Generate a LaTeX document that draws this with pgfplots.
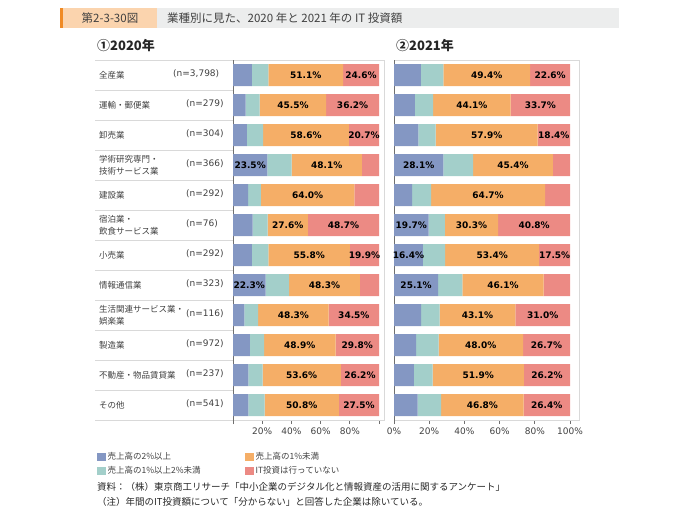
\documentclass[border=0pt]{standalone}
\usepackage{pgfplots}
\pgfplotsset{compat=1.18}
\usepackage{pgfplotstable}
\usepackage{fontspec}
\setmainfont{Noto Sans CJK JP}
\newfontfamily\num{DejaVu Sans}
\definecolor{cblue}{HTML}{8497C3}
\definecolor{cteal}{HTML}{A3CFCA}
\definecolor{corange}{HTML}{F5AE67}
\definecolor{cred}{HTML}{EC8A84}
\definecolor{txt}{HTML}{404040}
\definecolor{gridc}{HTML}{D9D9D9}
\definecolor{axc}{HTML}{707070}
\definecolor{hdrorange}{HTML}{F08A24}
\definecolor{hdrpeach}{HTML}{FBD4AE}
\definecolor{hdrgray}{HTML}{ECEDED}

% 2020
\pgfplotstableread{
row a b c d sa sb sc sd
1 12.9 11.4 51.1 24.6 0 0 1 1
2 8.7 9.6 45.5 36.2 0 0 1 1
3 9.5 11.2 58.6 20.7 0 0 1 1
4 23.5 16.6 48.1 11.8 1 0 1 0
5 10.3 8.8 64.0 16.9 0 0 1 0
6 13.4 10.3 27.6 48.7 0 0 1 1
7 12.9 11.4 55.8 19.9 0 0 1 1
8 22.3 16.2 48.3 13.2 1 0 1 0
9 7.8 9.4 48.3 34.5 0 0 1 1
10 11.5 9.8 48.9 29.8 0 0 1 1
11 10.6 9.6 53.6 26.2 0 0 1 1
12 10.6 11.1 50.8 27.5 0 0 1 1
}\tabA
% 2021
\pgfplotstableread{
row a b c d sa sb sc sd
1 15.3 12.7 49.4 22.6 0 0 1 1
2 11.9 10.3 44.1 33.7 0 0 1 1
3 13.9 9.8 57.9 18.4 0 0 1 1
4 28.1 16.8 45.4 9.7 1 0 1 0
5 10.3 10.8 64.7 14.2 0 0 1 0
6 19.7 9.2 30.3 40.8 1 0 1 1
7 16.4 12.7 53.4 17.5 1 0 1 1
8 25.1 13.8 46.1 15.0 1 0 1 0
9 15.4 10.5 43.1 31.0 0 0 1 1
10 12.5 12.8 48.0 26.7 0 0 1 1
11 11.3 10.6 51.9 26.2 0 0 1 1
12 13.4 13.4 46.8 26.4 0 0 1 1
}\tabB

\pgfplotsset{
  geomA/.style={scale only axis, at={(233pt,-420pt)}, anchor=south west, width=151pt, height=360pt,
    xmin=0, xmax=103.4, y dir=reverse, ymin=0.5, ymax=12.5, clip=false},
  geomB/.style={scale only axis, at={(394pt,-420pt)}, anchor=south west, width=185pt, height=360pt,
    xmin=0, xmax=105.1, y dir=reverse, ymin=0.5, ymax=12.5, clip=false},
  panel/.style={
    xbar stacked, bar width=22pt, ytick=\empty,
    minor ytick={1.5,2.5,...,11.5}, yminorgrids, minor grid style={gridc, line width=0.8pt},
    minor tick length=0pt,
    xtick={0,20,...,100}, xtick pos=bottom, xtick align=outside, major tick length=4pt,
    tick style={axc, line width=0.7pt},
    axis line style={gridc, line width=0.8pt},
    extra x ticks={0}, extra x tick labels={},
    extra x tick style={xmajorgrids=true, major grid style={axc, line width=1pt}},
    xticklabel style={font=\num\fontsize{9}{10}\selectfont, text=txt},
  },
  labs/.style={only marks, mark=*, mark size=0pt, mark options={draw=none,fill=none},
    point meta=explicit, restrict x to domain=0:200,
    nodes near coords={\pgfmathprintnumber[fixed,fixed zerofill,precision=1,assume math mode=true]{\pgfplotspointmeta}\%},
    every node near coord/.append style={anchor=center, font=\num\bfseries\fontsize{9}{10}\selectfont, text=black, inner sep=0pt}},
}
\newcommand{\labplots}[1]{%
\addplot[labs] table[y=row, meta=a, x expr={\thisrow{sa}>0 ? \thisrow{a}/2 : -1000}]{#1};
\addplot[labs] table[y=row, meta=b, x expr={\thisrow{sb}>0 ? \thisrow{a}+\thisrow{b}/2 : -1000}]{#1};
\addplot[labs] table[y=row, meta=c, x expr={\thisrow{sc}>0 ? \thisrow{a}+\thisrow{b}+\thisrow{c}/2 : -1000}]{#1};
\addplot[labs] table[y=row, meta=d, x expr={\thisrow{sd}>0 ? \thisrow{a}+\thisrow{b}+\thisrow{c}+\thisrow{d}/2 : -1000}]{#1};
}

\newcommand{\cat}{\fontsize{8.5}{12}\selectfont\color{txt}}

\begin{document}
\begin{tikzpicture}
\begin{scope}[x=1pt,y=-1pt]
\path (0,0) rectangle (698,511);
% header
\fill[hdrorange] (60,8) rectangle (62.5,28);
\fill[hdrpeach] (62.5,8) rectangle (157,28);
\fill[hdrgray] (157,8) rectangle (619,28);
\node[anchor=center, inner sep=0, font=\fontsize{11.5}{13}\selectfont, text=txt] at (110,18) {第2-3-30図};
\node[anchor=west, inner sep=0, font=\fontsize{11.5}{13}\selectfont, text=txt] at (167,18) {業種別に見た、2020 年と 2021 年の IT 投資額};
% panel titles
\node[anchor=west, inner sep=0, font=\bfseries\fontsize{13}{15}\selectfont, text=black!85] at (97,46) {①2020年};
\node[anchor=west, inner sep=0, font=\bfseries\fontsize{13}{15}\selectfont, text=black!85] at (396,46) {②2021年};
% separators in label area
\foreach \k in {0,...,12} \draw[gridc, line width=0.8pt] (95,60+30*\k) -- (233,60+30*\k);
% category labels
\begin{scope}[every node/.style={inner sep=0, anchor=west, align=left, font=\cat}]
\node at (99,75) {全産業};
\node at (99,105) {運輸・郵便業};
\node at (99,135) {卸売業};
\node at (99,165) {学術研究専門・\\技術サービス業};
\node at (99,195) {建設業};
\node at (99,225) {宿泊業・\\飲食サービス業};
\node at (99,255) {小売業};
\node at (99,285) {情報通信業};
\node at (99,315) {生活関連サービス業・\\娯楽業};
\node at (99,345) {製造業};
\node at (99,375) {不動産・物品賃貸業};
\node at (99,405) {その他};
\end{scope}
\begin{scope}[every node/.style={inner sep=0, anchor=west, font=\num\fontsize{9}{10}\selectfont, text=txt}]
\node at (173,74) {(n=3,798)};
\node at (186,104) {(n=279)};
\node at (186,134) {(n=304)};
\node at (186,164) {(n=366)};
\node at (186,194) {(n=292)};
\node at (186,224) {(n=76)};
\node at (186,254) {(n=292)};
\node at (186,284) {(n=323)};
\node at (186,314) {(n=116)};
\node at (186,344) {(n=972)};
\node at (186,374) {(n=237)};
\node at (186,404) {(n=541)};
\end{scope}
% notes
\node[anchor=west, inner sep=0, font=\fontsize{9.5}{11}\selectfont, text=black!85] at (97,487) {資料：（株）東京商工リサーチ「中小企業のデジタル化と情報資産の活用に関するアンケート」};
\node[anchor=west, inner sep=0, font=\fontsize{9.5}{11}\selectfont, text=black!85] at (97,502) {（注）年間のIT投資額について「分からない」と回答した企業は除いている。};
\end{scope}

\begin{axis}[geomA, panel,
  xticklabels={,20\%,40\%,60\%,80\%,},
  legend columns=2, transpose legend,
  legend style={at={(-0.905,-0.085)}, anchor=north west, draw=none, fill=none,
    font=\fontsize{8.5}{10}\selectfont, text=txt, row sep=1pt, inner sep=0pt,
    /tikz/every even column/.append style={column sep=42pt}},
  legend cell align=left,
  legend image code/.code={\fill[#1] (0pt,-4pt) rectangle (9pt,4pt);},
]
\addplot[fill=cblue, draw=none] table[x=a,y=row]{\tabA};
\addplot[fill=cteal, draw=none] table[x=b,y=row]{\tabA};
\addplot[fill=corange, draw=none] table[x=c,y=row]{\tabA};
\addplot[fill=cred, draw=none] table[x=d,y=row]{\tabA};
\legend{売上高の2\%以上,売上高の1\%以上2\%未満,売上高の1\%未満,IT投資は行っていない}
\end{axis}
\begin{axis}[geomA, hide axis]
\labplots{\tabA}
\end{axis}

\begin{axis}[geomB, panel,
  xticklabels={0\%,20\%,40\%,60\%,80\%,100\%},
]
\addplot[fill=cblue, draw=none] table[x=a,y=row]{\tabB};
\addplot[fill=cteal, draw=none] table[x=b,y=row]{\tabB};
\addplot[fill=corange, draw=none] table[x=c,y=row]{\tabB};
\addplot[fill=cred, draw=none] table[x=d,y=row]{\tabB};
\end{axis}
\begin{axis}[geomB, hide axis]
\labplots{\tabB}
\end{axis}
\end{tikzpicture}
\end{document}
